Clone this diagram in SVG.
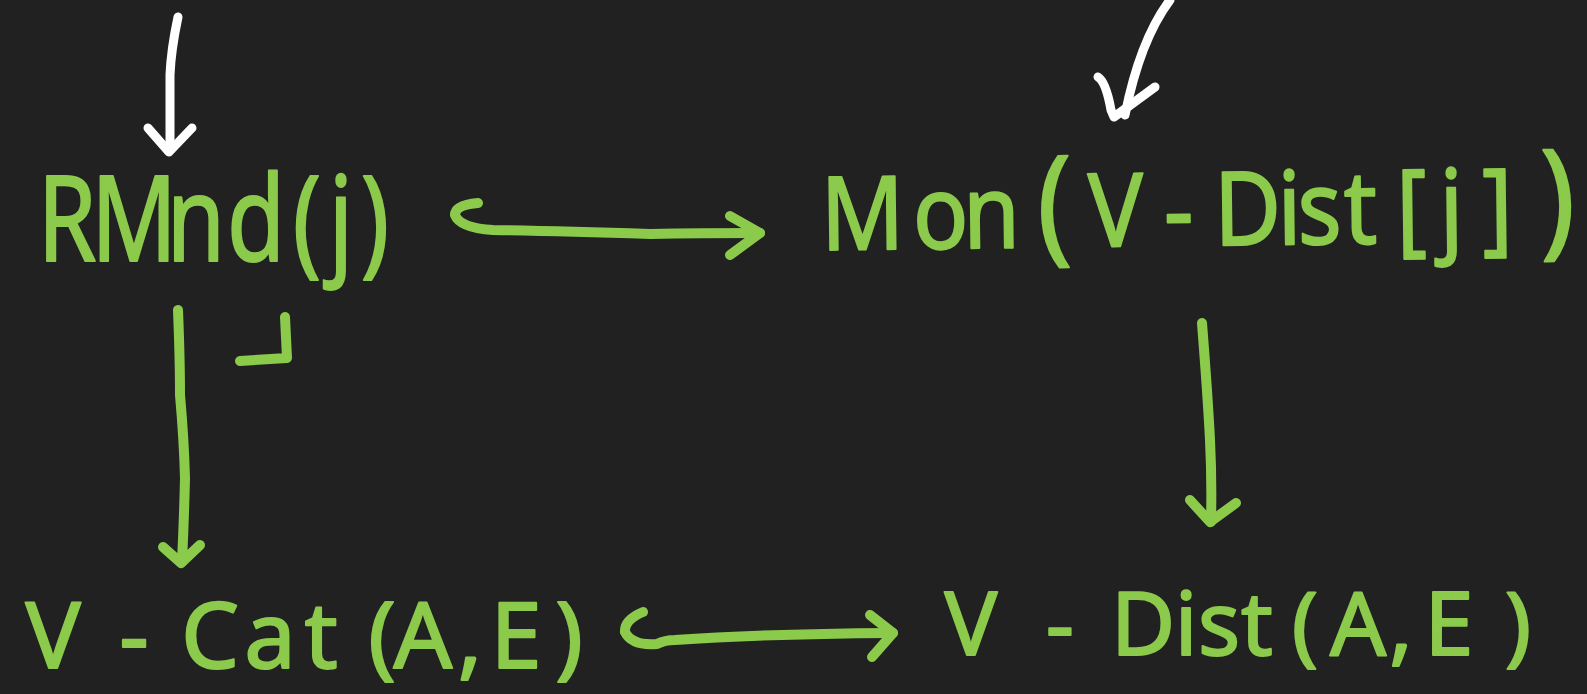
<svg xmlns="http://www.w3.org/2000/svg" width="1587" height="694" viewBox="0 0 1587 694">
  <style>
    .lbl { font-family: "Noto Sans", "Liberation Sans", sans-serif; fill: #8cca4c; stroke: #8cca4c; stroke-width: 2; stroke-linejoin: round; text-anchor: middle; }
    .big { font-size: 128px; }
    .ink { fill: none; stroke: #8cca4c; stroke-width: 10; stroke-linecap: round; stroke-linejoin: round; }
    .chalk { fill: none; stroke: #ffffff; stroke-width: 9; stroke-linecap: round; stroke-linejoin: round; }
  </style>
  <rect width="1587" height="694" fill="#212121"/>

  <g id="connectors">
    <!-- incoming arrow into RMnd(j) -->
    <path class="chalk" d="M178 17 Q171 50 170 75 L170 150"/>
    <path class="chalk" d="M148 128 L169 152 L192 128"/>
    <!-- incoming arrow into Mon(...) -->
    <path class="chalk" d="M1170 0 Q1140 40 1125 115"/>
    <path class="chalk" d="M1098 77 Q1106 82 1111 110 L1114 117 L1155 87"/>
    <!-- RMnd(j) to Mon(...) -->
    <path class="ink" d="M478 203 Q455 205 455 215 Q460 228 493 230 Q560 231 650 234 Q700 233 760 233"/>
    <path class="ink" d="M730 216 L760 233 L730 255"/>
    <!-- RMnd(j) down to V-Cat(A,E) -->
    <path class="ink" d="M178 310 Q180 360 180 395 Q184 440 185 478 Q184 520 182 562"/>
    <path class="ink" d="M163 547 L181 563 L200 545"/>
    <!-- corner mark -->
    <path class="ink" d="M285 317 L287 358 L240 361"/>
    <!-- Mon(...) down to V-Dist(A,E) -->
    <path class="ink" d="M1202 323 Q1208 400 1210 440 Q1212 480 1211 522"/>
    <path class="ink" d="M1190 500 L1210 522 L1236 503"/>
    <!-- V-Cat(A,E) to V-Dist(A,E) -->
    <path class="ink" d="M643 612 Q624 620 625 632 Q632 646 657 644 Q665 640 675 640 Q760 634 893 633"/>
    <path class="ink" d="M870 615 L893 633 L872 657"/>
  </g>

  <!-- labels: each glyph centred on its own column -->
  <g id="node-rmnd">
    <text class="lbl" transform="scale(0.8 1)" y="261" font-size="118"
      x="83.75 167.5 245 320 383.75 426.25 468.75">RMnd(j)</text>
  </g>
  <g id="node-mon">
    <text class="lbl" transform="rotate(-0.7 828 250) scale(0.9 1)" y="250" font-size="102"
      x="958.9 1045.6 1102.2 1172.2 1240 1310 1386.7 1433.3 1466.7 1512.2 1568.9 1613.3 1664.4 1731.1">Mon<tspan class="big">(</tspan>V-Dist[j]<tspan class="big">)</tspan></text>
  </g>
  <g id="node-vcat">
    <text class="lbl" y="668" font-size="92"
      x="53 134 210 270 321 382 423 470 516 569">V-Cat(A,E)</text>
  </g>
  <g id="node-vdist">
    <text class="lbl" y="655" font-size="88"
      x="971 1060 1143 1186 1219 1257 1305 1358 1401 1449 1518">V-Dist(A,E)</text>
  </g>
</svg>
